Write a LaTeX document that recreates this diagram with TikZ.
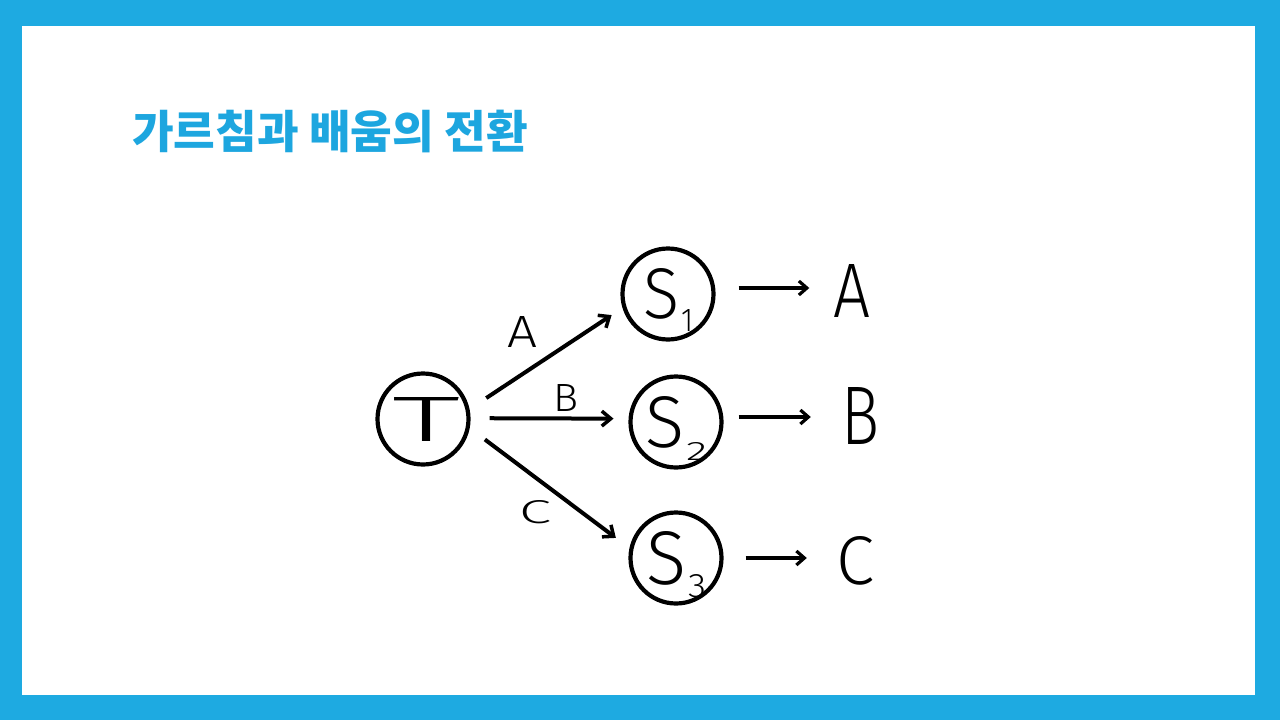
\documentclass[tikz,border=0pt]{standalone}
\usepackage{fontspec}
\setmainfont{Liberation Sans}
\IfFontExistsTF{Fira Sans Book}{\newfontfamily\handfont{Fira Sans Book}}{\newfontfamily\handfont{Fira Sans Light}}
\newfontfamily\krfont{Noto Sans CJK KR}
\usetikzlibrary{arrows.meta}
\definecolor{frameblue}{HTML}{1EAAE1}
\definecolor{titleblue}{HTML}{1DA6DF}
\newcommand{\fs}[1]{\fontsize{#1}{#1}\selectfont}
\newcommand{\glyph}[3]{\resizebox{#1pt}{#2pt}{\handfont\fs{60}#3}}
\newcommand{\stud}[5]{\glyph{#1}{#2}{S}\hspace{2pt}\smash{\raisebox{-13pt}{\glyph{#3}{#4}{#5}}}}
\begin{document}
\begin{tikzpicture}[x=1pt,y=-1pt,
  circ/.style={circle,draw,line width=4.2pt,minimum size=91pt,inner sep=0pt},
  lab/.style={inner sep=0pt},
  arr/.style={line width=4pt,-{Straight Barb[length=9pt,width=15pt,line width=3.5pt]}},
  sarr/.style={line width=3.6pt,-{Straight Barb[length=8pt,width=14pt,line width=3.2pt]}}]
\fill[frameblue] (0,0) rectangle (1280,720);
\fill[white] (22,26) rectangle (1255,695);
\node[anchor=west,inner sep=0pt,text=titleblue,font=\krfont\bfseries\fs{45.3}] (title) at (132,131) {가르침과 배움의 전환};
% circles
\node[circ] (T) at (423,419) {\hspace{8pt}\glyph{68}{44}{T}};
\node[circ] (S1) at (668,294) {\stud{36}{50}{12}{22}{1}};
\node[circ] (S2) at (676,422) {\stud{39}{51}{21}{18}{2}};
\node[circ] (S3) at (676,558) {\stud{40}{53}{18}{23}{3}};
% result letters
\node[lab] (rA) at (852,291) {\glyph{37}{53}{A}};
\node[lab] (rB) at (860,416) {\glyph{38}{57}{B}};
\node[lab] (rC) at (855,561) {\glyph{38}{48}{C}};
% edge labels
\node[lab] (lA) at (522,332) {\glyph{30}{31}{A}};
\node[lab] (lB) at (566,398) {\glyph{25}{27}{B}};
\node[lab] (lC) at (535,512) {\glyph{32}{23}{C}};
% arrows from T
\draw[arr,shorten <=20pt,shorten >=13pt] (T.12) -- (S1.197);
\draw[arr,shorten <=19pt,shorten >=15pt] (T.1) -- (S2.176);
\draw[arr,shorten <=19pt,shorten >=17pt] (T.-11) -- (S3.168);
% arrows to results
\draw[sarr,shorten <=23pt,shorten >=24pt] ([yshift=6pt]S1.east) -- ([yshift=6pt]rA.west |- S1.east);
\draw[sarr,shorten <=15pt,shorten >=30pt] ([yshift=5pt]S2.east) -- ([yshift=5pt]rB.west |- S2.east);
\draw[sarr,shorten <=22pt,shorten >=29pt] (S3.east) -- (rC.west |- S3.east);
\end{tikzpicture}
\end{document}
